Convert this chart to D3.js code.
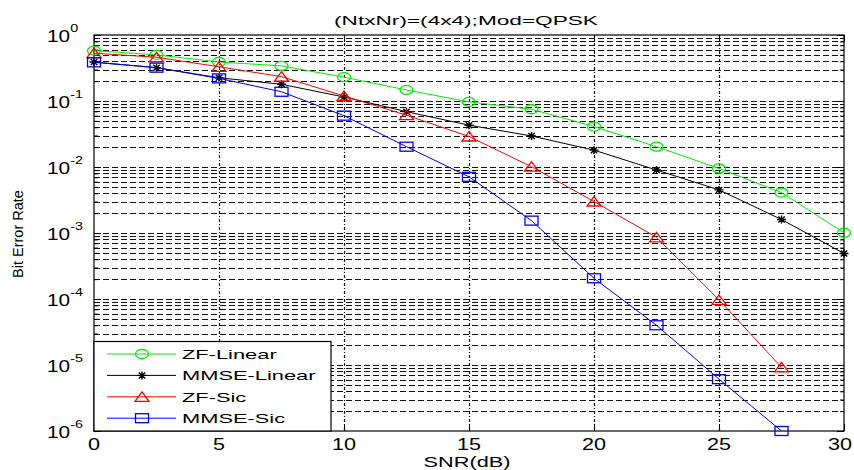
<!DOCTYPE html>
<html>
<head>
<meta charset="utf-8">
<script src="https://cdn.jsdelivr.net/npm/d3@7"></script>
<style>
  body { margin: 0; background: #fff; }
  svg { display: block; }
  text { font-family: "Liberation Sans", Arial, sans-serif; fill: #000; }
</style>
</head>
<body>
<svg id="chart" width="854" height="470"></svg>
<script>
// ---- data ----
const snr = [0, 2.5, 5, 7.5, 10, 12.5, 15, 17.5, 20, 22.5, 25, 27.5, 30];
const zfLinear   = [0.58, 0.50, 0.39, 0.34, 0.23, 0.147, 0.097, 0.075, 0.041, 0.0203, 0.0095, 0.0041, 0.00101];
const mmseLinear = [0.39, 0.32, 0.225, 0.179, 0.115, 0.069, 0.043, 0.0295, 0.018, 0.009, 0.0045, 0.0016, 0.00049];
const zfSic      = [0.53, 0.46, 0.33, 0.234, 0.119, 0.061, 0.029, 0.0101, 0.0030, 0.00086, 9.7e-5, 9.2e-6];
const mmseSic    = [0.385, 0.32, 0.22, 0.138, 0.060, 0.0203, 0.0071, 0.00154, 0.000206, 4.0e-5, 6.1e-6, 1.0e-6];

const seriesNames   = ["ZF-Linear", "MMSE-Linear", "ZF-Sic", "MMSE-Sic"];
const seriesValues  = [zfLinear, mmseLinear, zfSic, mmseSic];
const seriesColors  = ["#00ee00", "#000000", "#ff0000", "#0000ff"];
const seriesMarkers = ["circle", "star", "triangle", "square"];

const xTicks = [0, 5, 10, 15, 20, 25, 30];
const yExponents = [0, -1, -2, -3, -4, -5, -6];
const titleText = "(NtxNr)=(4x4);Mod=QPSK";
const xLabel = "SNR(dB)";
const yLabel = "Bit Error Rate";

// ---- layout ----
const W = 854, H = 470;
const margin = { left: 94, right: 10, top: 35, bottom: 39 };
const svg = d3.select("#chart");

const x = d3.scaleLinear().domain([0, 30]).range([margin.left, W - margin.right]);
const y = d3.scaleLog().domain([1e-6, 1]).range([H - margin.bottom, margin.top]);

const decadeValues = yExponents.map(e => Math.pow(10, e));
const minorValues = [];
for (let e = -6; e < 0; e++) {
  for (let m = 2; m <= 9; m++) minorValues.push(m * Math.pow(10, e));
}

// helper: horizontally stretched text
function placeText(sel, tx, ty, sx) {
  return sel.attr("x", 0).attr("y", 0)
    .attr("transform", `translate(${tx},${ty}) scale(${sx},1)`);
}

// ---- grid ----
const grid = svg.append("g").attr("class", "grid");
grid.selectAll("line.h")
  .data(minorValues.concat(decadeValues.filter(v => v < 1 && v > 1e-6)))
  .join("line")
  .attr("class", "h")
  .attr("x1", x(0)).attr("x2", x(30))
  .attr("y1", d => Math.round(y(d)) + 0.5).attr("y2", d => Math.round(y(d)) + 0.5)
  .attr("stroke", "#111").attr("stroke-width", 1)
  .attr("stroke-dasharray", "6,3");
grid.selectAll("line.v")
  .data(xTicks.filter(t => t > 0 && t < 30))
  .join("line")
  .attr("class", "v")
  .attr("x1", d => Math.round(x(d)) + 0.5).attr("x2", d => Math.round(x(d)) + 0.5)
  .attr("y1", y(1)).attr("y2", y(1e-6))
  .attr("stroke", "#111").attr("stroke-width", 1.2)
  .attr("stroke-dasharray", "3,2,1,2");

// ---- axes (ticks pointing inward) ----
const axisG = svg.append("g").attr("class", "axes");
function styleAxis(g) {
  g.select(".domain").remove();
  g.selectAll(".tick line").attr("stroke", "#000");
}
axisG.append("g").attr("transform", `translate(0,${y(1e-6)})`)
  .call(d3.axisBottom(x).tickValues(xTicks).tickSizeInner(-7).tickSizeOuter(0).tickFormat(""))
  .call(styleAxis);
axisG.append("g").attr("transform", `translate(0,${y(1)})`)
  .call(d3.axisTop(x).tickValues(xTicks).tickSizeInner(-7).tickSizeOuter(0).tickFormat(""))
  .call(styleAxis);
axisG.append("g").attr("transform", `translate(${x(0)},0)`)
  .call(d3.axisLeft(y).tickValues(decadeValues).tickSizeInner(-7).tickSizeOuter(0).tickFormat(""))
  .call(styleAxis);
axisG.append("g").attr("transform", `translate(${x(0)},0)`)
  .call(d3.axisLeft(y).tickValues(minorValues).tickSizeInner(-4).tickSizeOuter(0).tickFormat(""))
  .call(styleAxis);
axisG.append("g").attr("transform", `translate(${x(30)},0)`)
  .call(d3.axisRight(y).tickValues(decadeValues).tickSizeInner(-7).tickSizeOuter(0).tickFormat(""))
  .call(styleAxis);
axisG.append("g").attr("transform", `translate(${x(30)},0)`)
  .call(d3.axisRight(y).tickValues(minorValues).tickSizeInner(-4).tickSizeOuter(0).tickFormat(""))
  .call(styleAxis);

// frame
svg.append("rect")
  .attr("x", x(0)).attr("y", y(1))
  .attr("width", x(30) - x(0)).attr("height", y(1e-6) - y(1))
  .attr("fill", "none").attr("stroke", "#000").attr("stroke-width", 1.2);

// x tick labels (the last one is nudged so it stays inside the canvas)
svg.append("g").selectAll("text")
  .data(xTicks)
  .join("text")
  .attr("text-anchor", "middle")
  .style("font-size", "16px")
  .each(function (d) { placeText(d3.select(this), Math.min(x(d), W - 14), y(1e-6) + 19, 1.35); })
  .text(d => d);

// y tick labels: 10 with superscript exponent
const yLab = svg.append("g").selectAll("text")
  .data(yExponents)
  .join("text")
  .style("font-size", "16px")
  .each(function (d) { placeText(d3.select(this), 47, y(Math.pow(10, d)) + 6.5, 1.3); });
yLab.append("tspan").text("10");
yLab.append("tspan").attr("dy", -10).style("font-size", "11px").text(d => d === 0 ? "0" : "-" + Math.abs(d));

// ---- series ----
const lineGen = d3.line().x((d, i) => x(snr[i])).y(d => y(d));

function drawMarker(g, type, color) {
  if (type === "circle") {
    g.append("ellipse").attr("rx", 6.5).attr("ry", 4.5)
      .attr("fill", "none").attr("stroke", color).attr("stroke-width", 1.3);
  } else if (type === "square") {
    g.append("rect").attr("x", -6.5).attr("y", -4.5).attr("width", 13).attr("height", 9)
      .attr("fill", "none").attr("stroke", color).attr("stroke-width", 1.3);
  } else if (type === "triangle") {
    g.append("path").attr("d", "M0,-5L7,4.5L-7,4.5Z")
      .attr("fill", "none").attr("stroke", color).attr("stroke-width", 1.3);
  } else {
    g.append("path").attr("d", "M-4.5,0H4.5M0,-4V4M-3.2,-3L3.2,3M-3.2,3L3.2,-3")
      .attr("fill", "none").attr("stroke", color).attr("stroke-width", 1.4);
  }
}

const seriesG = svg.append("g").attr("class", "series");
seriesValues.forEach((vals, s) => {
  const g = seriesG.append("g");
  g.append("path").datum(vals)
    .attr("d", lineGen)
    .attr("fill", "none").attr("stroke", seriesColors[s]).attr("stroke-width", 1);
  g.selectAll("g.pt").data(vals).join("g")
    .attr("class", "pt")
    .attr("transform", (d, i) => `translate(${x(snr[i])},${y(d)})`)
    .each(function () { drawMarker(d3.select(this), seriesMarkers[s], seriesColors[s]); });
});

// ---- legend ----
const legX0 = x(0), legY0 = 341.5, legW = 237, legH = y(1e-6) - 341.5;
const legend = svg.append("g").attr("class", "legend");
legend.append("rect")
  .attr("x", legX0).attr("y", legY0).attr("width", legW).attr("height", legH)
  .attr("fill", "#fff").attr("stroke", "#000").attr("stroke-width", 1.2);
const rows = legend.selectAll("g.row").data(seriesNames).join("g")
  .attr("class", "row")
  .attr("transform", (d, i) => `translate(0,${354 + i * 21.4})`);
rows.append("line")
  .attr("x1", legX0 + 13).attr("x2", legX0 + 82)
  .attr("stroke", (d, i) => seriesColors[i]).attr("stroke-width", 1);
rows.append("g")
  .attr("transform", `translate(${legX0 + 48},0)`)
  .each(function (d, i) { drawMarker(d3.select(this), seriesMarkers[i], seriesColors[i]); });
rows.append("text")
  .style("font-size", "13px")
  .each(function () { placeText(d3.select(this), legX0 + 88, 4.8, 1.68); })
  .text(d => d);

// ---- titles ----
placeText(svg.append("text").attr("text-anchor", "middle").style("font-size", "13px"),
  466, 24.5, 1.74).text(titleText);
placeText(svg.append("text").attr("text-anchor", "middle").style("font-size", "14px"),
  467, 467, 1.55).text(xLabel);
svg.append("text")
  .attr("text-anchor", "middle")
  .style("font-size", "14.5px")
  .attr("transform", `translate(23,234) rotate(-90)`)
  .text(yLabel);
</script>
</body>
</html>
